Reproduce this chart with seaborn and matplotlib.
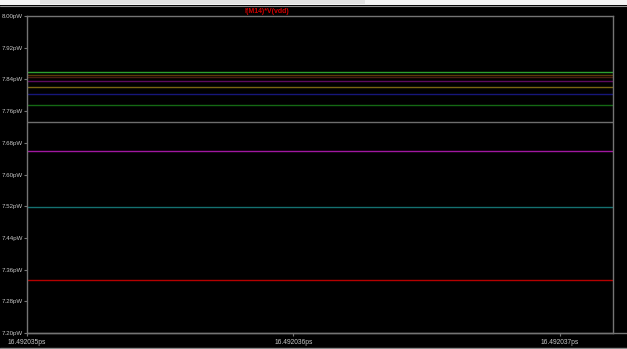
import matplotlib
matplotlib.use("Agg")
import matplotlib.pyplot as plt
from matplotlib.patches import Rectangle
from matplotlib.ticker import FixedLocator, FuncFormatter
import numpy as np
import pandas as pd
import seaborn as sns

# Simulated power traces (pW), flat over a tiny time window (ps)
time_ps = [16.492035, 16.4920372]
series = ["P1", "P2", "P3", "P4", "P5", "P6", "P7", "P8", "P9", "P10", "P11"]
power_pw = [7.859, 7.852, 7.845, 7.836, 7.822, 7.803, 7.775, 7.733, 7.659, 7.518, 7.333]
colors = ["#2ea02e", "#5a3a08", "#4a1e14", "#5e0a5e", "#7a6412", "#16167a",
          "#146814", "#6e6e6e", "#a018a0", "#147070", "#b40000"]

x_ticks = [16.492035, 16.492036, 16.492037]
y_ticks = [7.20, 7.28, 7.36, 7.44, 7.52, 7.60, 7.68, 7.76, 7.84, 7.92, 8.00]

rows = []
for name, v in zip(series, power_pw):
    for t in time_ps:
        rows.append({"time": t, "power": v, "trace": name})
df = pd.DataFrame(rows)

sns.set_theme(style="dark")
plt.rcParams["font.family"] = ["Liberation Sans", "DejaVu Sans"]

W, H = 627, 349
fig = plt.figure(figsize=(W / 100, H / 100), dpi=100, facecolor="black")
ax = fig.add_axes([27 / W, 16 / H, (613 - 27) / W, (333 - 16) / H])
ax.set_facecolor("black")

sns.lineplot(data=df, x="time", y="power", hue="trace", palette=colors,
             hue_order=series, legend=False, linewidth=1.0, ax=ax)

ax.set_xlim(time_ps[0], time_ps[1])
ax.set_ylim(7.20, 8.00)
ax.xaxis.set_major_locator(FixedLocator(x_ticks))
ax.yaxis.set_major_locator(FixedLocator(y_ticks))
ax.xaxis.set_major_formatter(FuncFormatter(lambda v, p: f"{v:.6f}ps"))
ax.yaxis.set_major_formatter(FuncFormatter(lambda v, p: f"{v:.2f}pW"))
ax.set_xlabel("")
ax.set_ylabel("")
ax.grid(False)

frame = "#747474"
for s in ax.spines.values():
    s.set_visible(True)
    s.set_color(frame)
    s.set_linewidth(1.0)
ax.tick_params(axis="both", colors=frame, length=2.5, width=0.8, direction="out",
               labelcolor="#c8c8c8")
ax.tick_params(axis="y", left=True, labelsize=4.4, pad=0.5)
ax.tick_params(axis="x", bottom=True, labelsize=4.8, pad=2)

# window chrome at the top
fig.patches.append(Rectangle((0, 1 - 5 / H), 1, 5 / H, transform=fig.transFigure,
                             facecolor="#f4f4f4", edgecolor="none", zorder=0))
fig.patches.append(Rectangle((40 / W, 1 - 4 / H), 325 / W, 4 / H, transform=fig.transFigure,
                             facecolor="#e2e2e2", edgecolor="none", zorder=0))
fig.add_artist(plt.Line2D([0, 1], [1 - 5.5 / H, 1 - 5.5 / H], transform=fig.transFigure,
                          color="#909090", linewidth=0.8))
fig.add_artist(plt.Line2D([27 / W, 1], [16 / H, 16 / H], transform=fig.transFigure,
                          color=frame, linewidth=1.0))
fig.add_artist(plt.Line2D([0, 1], [1.5 / H, 1.5 / H], transform=fig.transFigure,
                          color="#8a8a8a", linewidth=1.0))

fig.text(267 / W, 1 - 11.5 / H, "I(M14)*V(vdd)", color="#d00000", fontsize=5.0,
         fontweight="bold", ha="center", va="center")

fig.savefig("out.png", dpi=100, facecolor="black")
